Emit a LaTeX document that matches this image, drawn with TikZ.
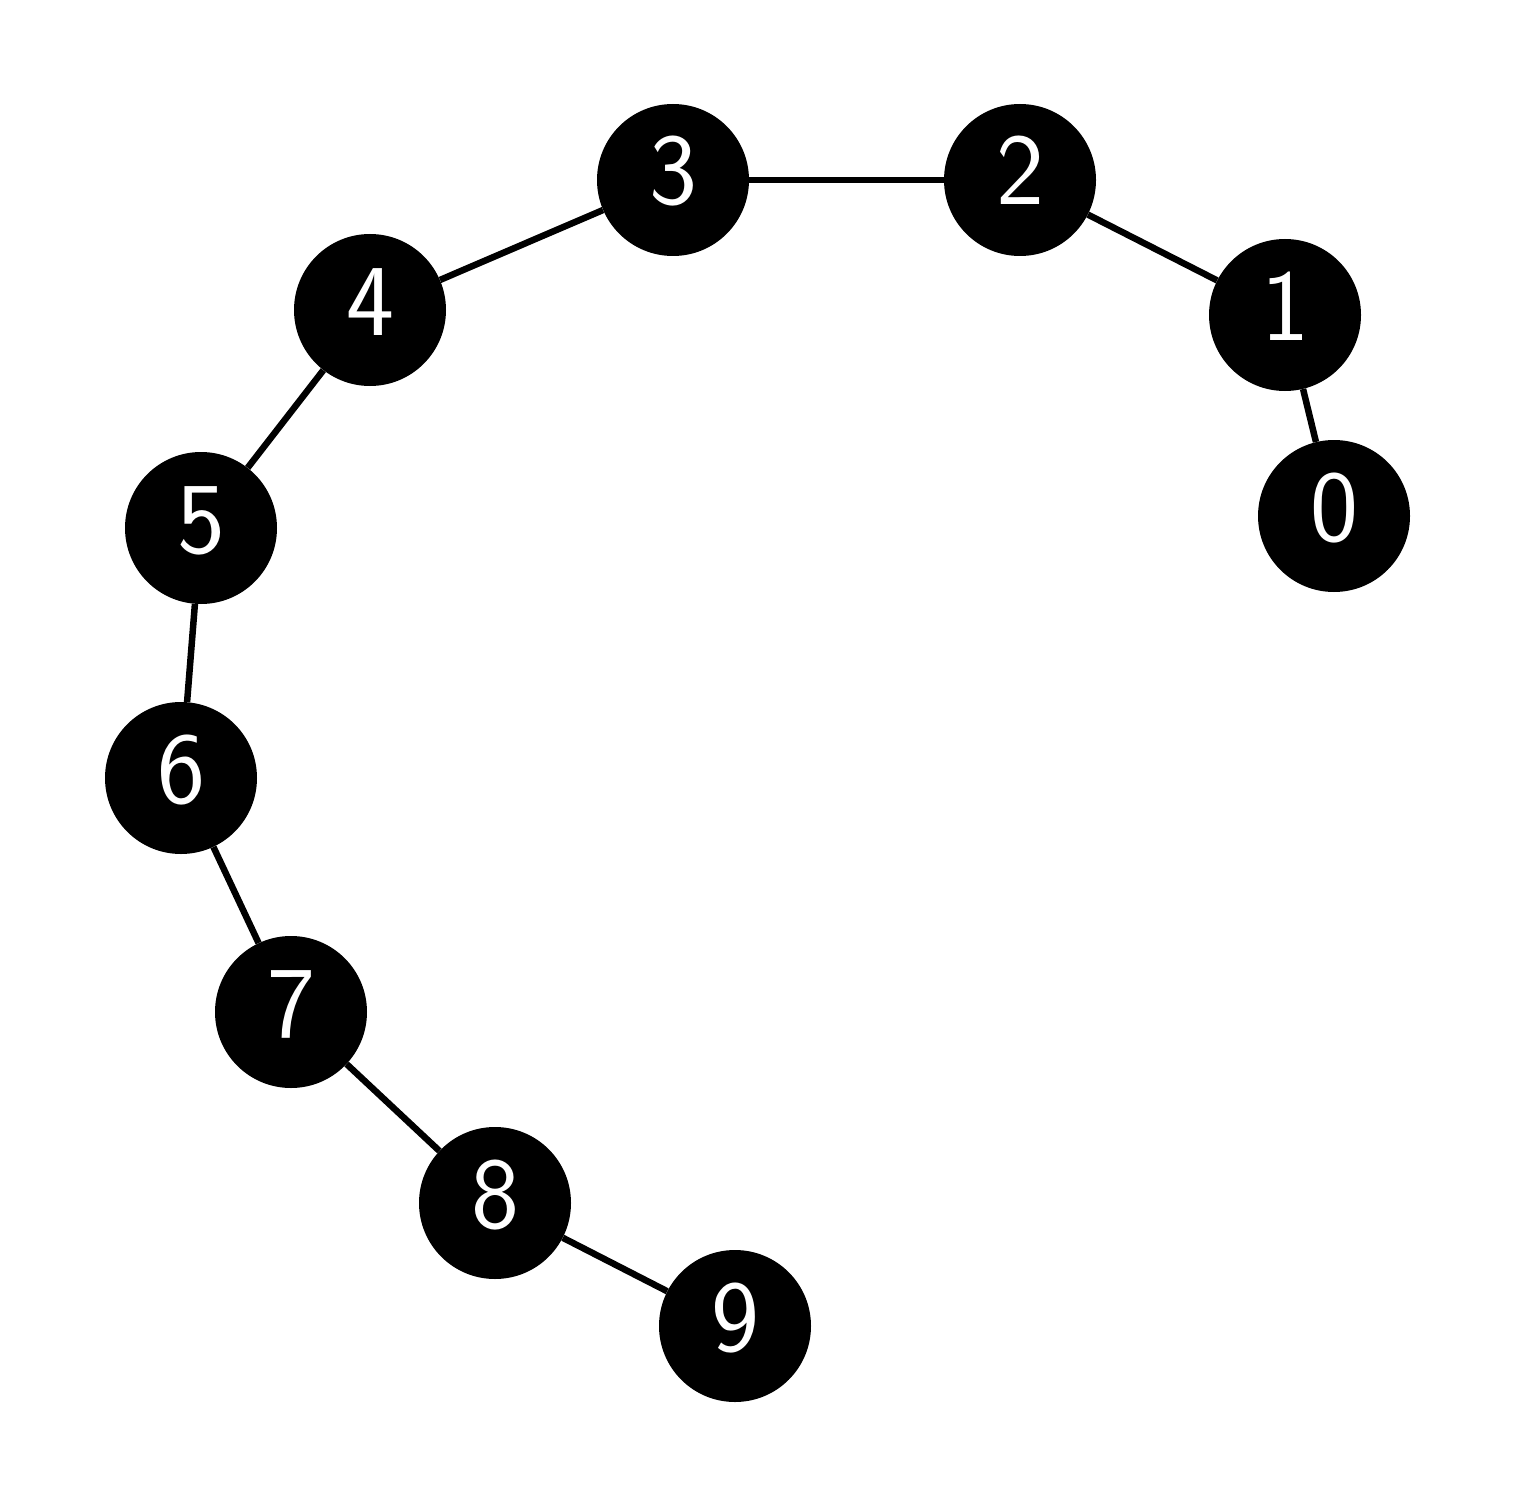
\documentclass[tikz,border=0pt]{standalone}
\begin{document}
\begin{tikzpicture}[x=1pt,y=-1pt,
  vert/.style={circle,fill=black,draw=none,minimum size=152pt,inner sep=0pt,text=white,text height=68pt,text depth=18pt,font=\sffamily\fontsize{102}{102}\selectfont},
  edge/.style={line width=6.5pt,black}]
\useasboundingbox (0,0) rectangle (1515,1506);
\node[vert] (n0) at (1334,516) {0};
\node[vert] (n1) at (1285,315) {1};
\node[vert] (n2) at (1020,180) {2};
\node[vert] (n3) at (673,180) {3};
\node[vert] (n4) at (370,310) {4};
\node[vert] (n5) at (201,528) {5};
\node[vert] (n6) at (181,778) {6};
\node[vert] (n7) at (291,1012) {7};
\node[vert] (n8) at (495,1203) {8};
\node[vert] (n9) at (735,1326) {9};
\draw[edge] (n0) -- (n1);
\draw[edge] (n1) -- (n2);
\draw[edge] (n2) -- (n3);
\draw[edge] (n3) -- (n4);
\draw[edge] (n4) -- (n5);
\draw[edge] (n5) -- (n6);
\draw[edge] (n6) -- (n7);
\draw[edge] (n7) -- (n8);
\draw[edge] (n8) -- (n9);
\end{tikzpicture}
\end{document}
